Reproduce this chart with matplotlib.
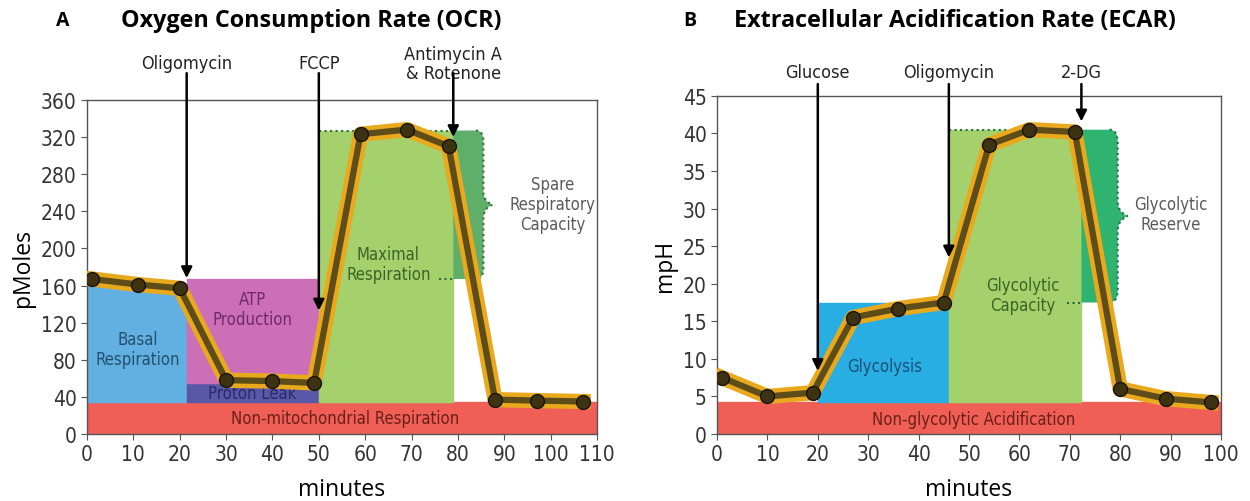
import matplotlib.pyplot as plt
from matplotlib.patches import Rectangle
from matplotlib.path import Path
from matplotlib.patches import PathPatch

# ---- panel A : OCR ----
ocr_t = [1, 11, 20, 30, 40, 49, 59, 69, 78, 88, 97, 107]
ocr = [167, 161, 157, 58, 57, 55, 323, 328, 310, 37, 36, 35]
ocr_inject = [21.5, 50, 79]
ocr_inject_lbl = ["Oligomycin", "FCCP", "Antimycin A\n& Rotenone"]
ocr_inject_tip = [168, 133, 320]
ocr_nonmito = 35
ocr_basal = 160
ocr_leak = 55
ocr_atp = 167
ocr_max = 327
ocr_spare_end = 85.5

# ---- panel B : ECAR ----
ecar_t = [1, 10, 19, 27, 36, 45, 54, 62, 71, 80, 89, 98]
ecar = [7.5, 5.0, 5.5, 15.5, 16.7, 17.5, 38.5, 40.5, 40.2, 6.0, 4.7, 4.2]
ecar_inject = [20, 46, 72.3]
ecar_inject_lbl = ["Glucose", "Oligomycin", "2-DG"]
ecar_inject_tip = [8.4, 23.5, 41.6]
ecar_nonglyc = 4.2
ecar_glyc = 17.5
ecar_cap = 40.5
ecar_res_end = 79.5

NARROW = dict(family='DejaVu Sans', stretch='condensed')
RED = '#ef5f55'
LGREEN = '#a5d16c'
GOLD = '#e9a91d'
LINE = '#5e4c19'


def brace(ax, x0, xb, ylo, yhi, color, fill):
    # curly brace on the right edge of the reserve block
    h = yhi - ylo
    r = 1.6
    ym = (ylo + yhi) / 2
    tip = 2.0
    verts = [(x0, yhi), (xb - r, yhi),
             (xb, yhi), (xb, yhi - h * 0.07),
             (xb, ym + h * 0.09),
             (xb, ym + h * 0.02), (xb + tip, ym),
             (xb, ym - h * 0.02), (xb, ym - h * 0.09),
             (xb, ylo + h * 0.07),
             (xb, ylo), (xb - r, ylo),
             (x0, ylo), (x0, yhi)]
    codes = [Path.MOVETO, Path.LINETO,
             Path.CURVE3, Path.CURVE3,
             Path.LINETO,
             Path.CURVE3, Path.CURVE3,
             Path.CURVE3, Path.CURVE3,
             Path.LINETO,
             Path.CURVE3, Path.CURVE3,
             Path.LINETO, Path.CLOSEPOLY]
    ax.add_patch(PathPatch(Path(verts, codes), facecolor=fill, edgecolor='none', zorder=1))
    ax.add_patch(PathPatch(Path(verts[1:12], codes[:1] + codes[2:12]),
                           facecolor='none', edgecolor=color, ls=':', lw=1.5, zorder=1.5))


def style(ax, xmax, ymax, ystep, xlab, ylab):
    ax.set_xlim(0, xmax)
    ax.set_ylim(0, ymax)
    ax.set_xticks(range(0, xmax + 1, 10))
    ax.set_yticks(range(0, ymax + 1, ystep))
    for s in ax.spines.values():
        s.set_color('#555555')
        s.set_linewidth(1.0)
    ax.tick_params(length=4, color='#555555', labelcolor='#333333', labelsize=15)
    for lb in ax.get_xticklabels() + ax.get_yticklabels():
        lb.set_family('DejaVu Sans')
        lb.set_stretch('condensed')
    ax.set_xlabel(xlab, fontsize=16.5, family=['Open Sans', 'DejaVu Sans'], labelpad=9)
    ax.set_ylabel(ylab, fontsize=16.5, family=['Open Sans', 'DejaVu Sans'], labelpad=4)


def series(ax, t, y):
    ax.plot(t, y, color=GOLD, lw=11, solid_joinstyle='round', zorder=3)
    ax.plot(t, y, color=LINE, lw=4.5, marker='o', ms=10, mfc='#3d3212',
            mec='#1a1408', zorder=4)


def inject(ax, xs, lbls, tips, ytext, ystart):
    for x, lbl, tip in zip(xs, lbls, tips):
        ax.annotate('', xy=(x, tip), xycoords='data',
                    xytext=(x, ystart), textcoords=('data', 'axes fraction'),
                    arrowprops=dict(arrowstyle='-|>', color='black', lw=1.8,
                                    mutation_scale=16, shrinkA=0, shrinkB=0),
                    annotation_clip=False, zorder=5)
        ax.text(x, ytext, lbl, transform=ax.get_xaxis_transform(), ha='center',
                va='center', fontsize=13, color='#222222', linespacing=1.05, **NARROW)


def label(ax, x, y, s, c):
    ax.text(x, y, s, ha='center', va='center', fontsize=12, color=c,
            linespacing=1.15, zorder=2, **NARROW)


fig = plt.figure(figsize=(12.5, 5.02), dpi=100)
axA = fig.add_axes([0.0696, 0.1335, 0.408, 0.6655])
axB = fig.add_axes([0.5736, 0.1335, 0.4032, 0.6735])

# panel A blocks
axA.add_patch(Rectangle((0, 0), 110, ocr_nonmito, color=RED, zorder=1))
axA.add_patch(Rectangle((0, ocr_nonmito), ocr_inject[0], ocr_basal - ocr_nonmito, color='#62afe2', zorder=1))
axA.add_patch(Rectangle((ocr_inject[0], ocr_nonmito), ocr_inject[1] - ocr_inject[0], ocr_leak - ocr_nonmito, color='#5b57a8', zorder=1))
axA.add_patch(Rectangle((ocr_inject[0], ocr_leak), ocr_inject[1] - ocr_inject[0], ocr_atp - ocr_leak, color='#cd6fb6', zorder=1))
axA.add_patch(Rectangle((ocr_inject[1], ocr_nonmito), ocr_inject[2] - ocr_inject[1], ocr_max - ocr_nonmito, color=LGREEN, zorder=1))
brace(axA, ocr_inject[2], ocr_spare_end, ocr_atp, ocr_max, '#2f6e3a', '#5fae6a')
axA.plot([ocr_inject[1], ocr_inject[2]], [ocr_max, ocr_max], ls=':', color='#2f6e3a', lw=1.5, zorder=1.5)
axA.plot([76, ocr_inject[2]], [ocr_atp, ocr_atp], ls=':', color='#2f6e3a', lw=1.5, zorder=1.5)

label(axA, 11, 92, "Basal\nRespiration", '#24506e')
label(axA, 35.6, 135, "ATP\nProduction", '#6e2a66')
label(axA, 35.6, 44, "Proton Leak", '#2a2a66')
label(axA, 65, 183, "Maximal\nRespiration", '#3a6427')
label(axA, 55.6, 17, "Non-mitochondrial Respiration", '#6a1f1a')
label(axA, 100.5, 248, "Spare\nRespiratory\nCapacity", '#5a5a5a')

series(axA, ocr_t, ocr)
inject(axA, ocr_inject, ocr_inject_lbl, ocr_inject_tip, 1.11, 1.08)
style(axA, 110, 360, 40, 'minutes', 'pMoles')

# panel B blocks
axB.add_patch(Rectangle((0, 0), 100, ecar_nonglyc, color=RED, zorder=1))
axB.add_patch(Rectangle((ecar_inject[0], ecar_nonglyc), ecar_inject[1] - ecar_inject[0], ecar_glyc - ecar_nonglyc, color='#29aee4', zorder=1))
axB.add_patch(Rectangle((ecar_inject[1], ecar_nonglyc), ecar_inject[2] - ecar_inject[1], ecar_cap - ecar_nonglyc, color=LGREEN, zorder=1))
brace(axB, ecar_inject[2], ecar_res_end, ecar_glyc, ecar_cap, '#1f6e40', '#2fb46f')
axB.plot([ecar_inject[1], ecar_inject[2]], [ecar_cap, ecar_cap], ls=':', color='#1f6e40', lw=1.5, zorder=1.5)
axB.plot([69.5, ecar_inject[2]], [ecar_glyc, ecar_glyc], ls=':', color='#1f6e40', lw=1.5, zorder=1.5)

label(axB, 33.3, 9.0, "Glycolysis", '#1d4f7a')
label(axB, 60.7, 18.5, "Glycolytic\nCapacity", '#3a6427')
label(axB, 51, 2.0, "Non-glycolytic Acidification", '#6a1f1a')
label(axB, 90, 29.3, "Glycolytic\nReserve", '#5a5a5a')

series(axB, ecar_t, ecar)
inject(axB, ecar_inject, ecar_inject_lbl, ecar_inject_tip, 1.07, 1.035)
style(axB, 100, 45, 5, 'minutes', 'mpH')

TITLE = ['Open Sans', 'DejaVu Sans']
fig.text(0.05, 0.958, 'A', fontsize=14, fontweight='bold', family=TITLE, va='center', ha='center')
fig.text(0.249, 0.958, 'Oxygen Consumption Rate (OCR)', fontsize=16.8, fontweight='bold', family=TITLE, va='center', ha='center')
fig.text(0.552, 0.958, 'B', fontsize=14, fontweight='bold', family=TITLE, va='center', ha='center')
fig.text(0.764, 0.958, 'Extracellular Acidification Rate (ECAR)', fontsize=16.8, fontweight='bold', family=TITLE, va='center', ha='center')

fig.savefig('out.png', dpi=100)
